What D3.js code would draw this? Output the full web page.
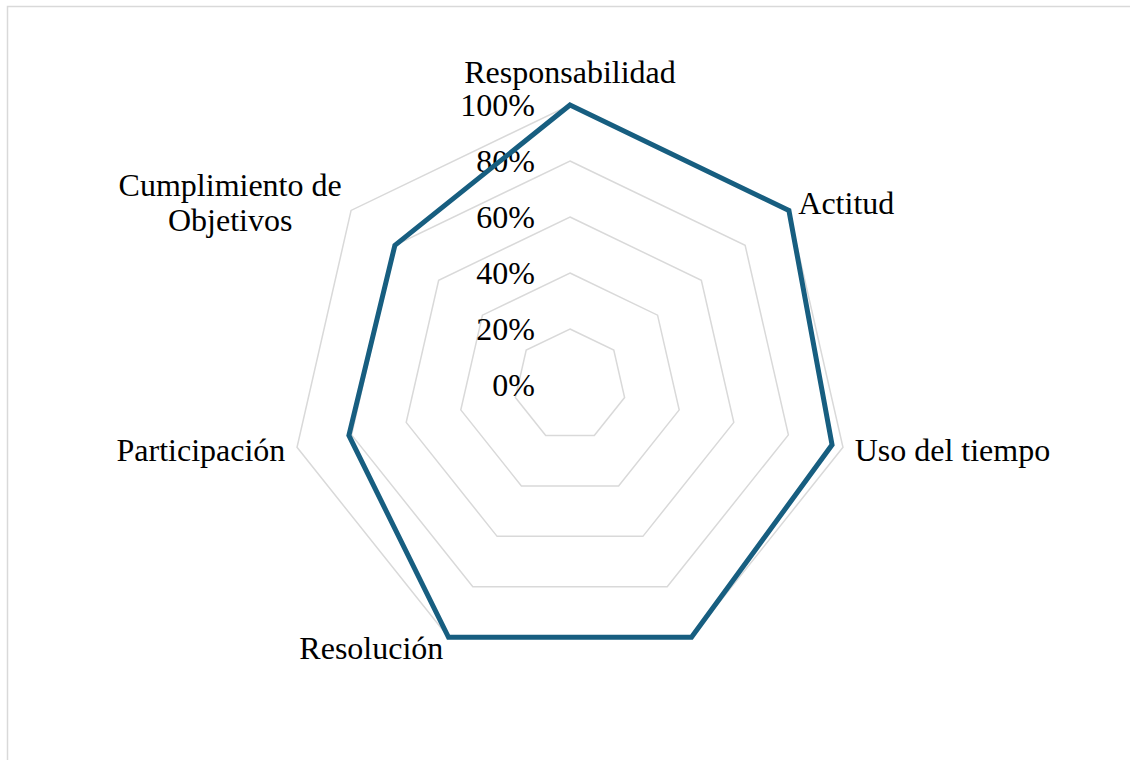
<!DOCTYPE html>
<html>
<head>
<meta charset="utf-8">
<script src="https://cdn.jsdelivr.net/npm/d3@7"></script>
<style>
	body { margin: 0; background: #fff; }
	text { font-family: "Liberation Serif", "Times New Roman", serif; fill: #000; }
</style>
</head>
<body>
<div id="chart"></div>
<script>
// datos del radar
var categorias = ["Responsabilidad", "Actitud", "Uso del tiempo", "", "Resolución", "Participación", "Cumplimiento de\nObjetivos"];
var valores = [1.00, 1.00, 0.96, 1.00, 1.00, 0.81, 0.80];
var ticks = [0, 0.2, 0.4, 0.6, 0.8, 1.0];

var width = 1130, height = 760;
var cx = 570, cy = 385, radio = 280;
var fontSize = 32;

var svg = d3.select("#chart").append("svg")
	.attr("width", width)
	.attr("height", height);

//marco del grafico
svg.append("rect")
	.attr("x", 7.5).attr("y", 6.5)
	.attr("width", width + 20).attr("height", height + 20)
	.attr("fill", "none")
	.attr("stroke", "#d9d9d9")
	.attr("stroke-width", 1.5);

var r = d3.scaleLinear().domain([0, 1]).range([0, radio]);
var ang = d3.scaleLinear().domain([0, categorias.length]).range([0, 2 * Math.PI]);

function punto(i, v) {
	var a = ang(i);
	return [cx + r(v) * Math.sin(a), cy - r(v) * Math.cos(a)];
}

var g = svg.append("g");

//rejilla
ticks.filter(function(t) { return t > 0; }).forEach(function(t) {
	g.append("path")
		.attr("d", d3.line()(categorias.map(function(c, i) { return punto(i, t); })) + "Z")
		.attr("fill", "none")
		.attr("stroke", "#d9d9d9")
		.attr("stroke-width", 1.5);
});

//etiquetas del eje
g.selectAll(".tick")
	.data(ticks)
	.enter().append("text")
	.attr("x", cx - 35)
	.attr("y", function(d) { return cy - r(d); })
	.attr("text-anchor", "end")
	.attr("dominant-baseline", "central")
	.style("font-size", fontSize + "px")
	.text(d3.format(".0%"));

//serie
var linea = d3.lineRadial()
	.angle(function(d, i) { return ang(i); })
	.radius(function(d) { return r(d); })
	.curve(d3.curveLinearClosed);

g.append("path")
	.attr("transform", "translate(" + cx + "," + cy + ")")
	.attr("d", linea(valores))
	.attr("fill", "none")
	.attr("stroke", "#175e80")
	.attr("stroke-width", 5)
	.attr("stroke-linejoin", "miter");

//categorias
categorias.forEach(function(c, i) {
	if (!c) return;
	var p = punto(i, 1 + 12 / radio);
	var s = Math.sin(ang(i));
	var lineas = c.split("\n");
	var t = g.append("text")
		.style("font-size", fontSize + "px");
	lineas.forEach(function(l, k) {
		t.append("tspan").attr("x", 0).attr("dy", k ? 35 : 0).text(l);
	});
	var bb = t.node().getBBox();
	var x, y;
	if (Math.abs(s) < 0.1) {
		x = p[0] - bb.width / 2;
		y = p[1] - 10;
	} else {
		x = s > 0 ? p[0] : p[0] - bb.width;
		y = p[1] - bb.height / 2 - bb.y;
	}
	t.attr("text-anchor", "middle");
	t.selectAll("tspan").attr("x", 0);
	t.attr("transform", "translate(" + (x + bb.width / 2) + "," + y + ")");
});
</script>
</body>
</html>
